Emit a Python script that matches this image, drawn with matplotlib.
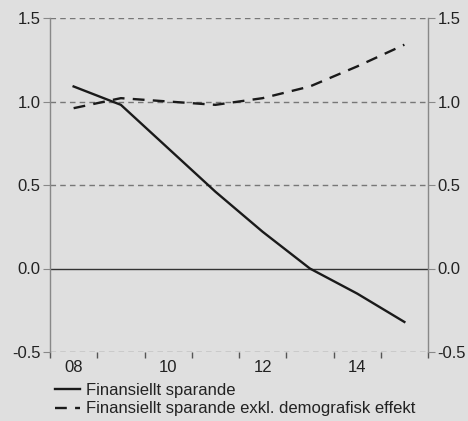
import matplotlib
matplotlib.use("Agg")
import matplotlib.pyplot as plt
from matplotlib.ticker import FixedLocator, FixedFormatter

plt.rcParams['font.family'] = ['Liberation Sans', 'DejaVu Sans']

years = [2008, 2009, 2010, 2011, 2012, 2013, 2014, 2015]
fin_sparande = [1.09, 0.98, 0.72, 0.46, 0.22, 0.00, -0.15, -0.32]
fin_sparande_exkl = [0.96, 1.02, 1.00, 0.98, 1.02, 1.09, 1.21, 1.34]
yticks = [-0.5, 0.0, 0.5, 1.0, 1.5]
ytick_labels = ["-0.5", "0.0", "0.5", "1.0", "1.5"]
xtick_years = [2008, 2010, 2012, 2014]
xtick_labels = ["08", "10", "12", "14"]
label1 = "Finansiellt sparande"
label2 = "Finansiellt sparande exkl. demografisk effekt"

bg = "#dfdfdf"
fig = plt.figure(figsize=(4.68, 4.21), dpi=100, facecolor=bg)
ax = fig.add_axes([50/468, 69/421, 378/468, 334/421], facecolor=bg)

for y in yticks:
    if y == 0:
        ax.axhline(y, color="#333333", lw=1.0, zorder=1)
    else:
        ax.axhline(y, color="#777777", lw=1.0, ls=(0, (4, 3)), zorder=1)

l1, = ax.plot(years, fin_sparande, color="#1a1a1a", lw=1.7, label=label1, zorder=3)
l2, = ax.plot(years, fin_sparande_exkl, color="#1a1a1a", lw=1.7, ls=(0, (5, 3.5)), label=label2, zorder=3)

ax.set_xlim(2007.5, 2015.5)
ax.set_ylim(-0.5, 1.5)

for s in ["top", "bottom"]:
    ax.spines[s].set_visible(False)
for s in ["left", "right"]:
    ax.spines[s].set_color("#888888")
    ax.spines[s].set_linewidth(1.0)

ax.set_yticks(yticks)
ax.set_yticklabels(ytick_labels)
ax.tick_params(axis="y", which="both", direction="out", length=5, color="#888888",
               labelsize=12, labelcolor="#222222", left=True, right=True,
               labelleft=True, labelright=True, pad=2)

bounds = [y - 0.5 for y in years] + [years[-1] + 0.5]
ax.xaxis.set_major_locator(FixedLocator(xtick_years))
ax.xaxis.set_major_formatter(FixedFormatter(xtick_labels))
ax.xaxis.set_minor_locator(FixedLocator(bounds))
ax.tick_params(axis="x", which="major", length=0, labelsize=12, labelcolor="#222222", pad=6)
ax.tick_params(axis="x", which="minor", direction="out", length=4, color="#555555", width=1.0)

fig.legend(handles=[l1, l2], loc="upper left", bbox_to_anchor=(55/468, 1 - 383/421),
           frameon=False, fontsize=12, handlelength=1.5, handletextpad=0.35,
           borderaxespad=0, borderpad=0, labelspacing=0.2, labelcolor="#222222")

fig.savefig("out.png", dpi=100, facecolor=bg)
